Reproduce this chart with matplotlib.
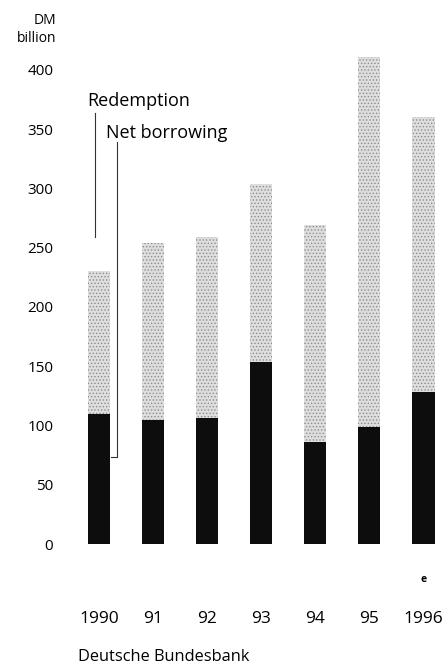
import matplotlib
matplotlib.use("Agg")
import matplotlib.pyplot as plt
import numpy as np

plt.rcParams['font.family'] = ['Open Sans', 'DejaVu Sans']
plt.rcParams['hatch.linewidth'] = 0.6

# DM billion
years = ['1990', '91', '92', '93', '94', '95', '1996']
net_borrowing = [110, 105, 106, 154, 86, 99, 128]
redemption = [120, 149, 153, 150, 183, 312, 232]
yticks = [0, 50, 100, 150, 200, 250, 300, 350, 400]

x = np.arange(len(years))

fig = plt.figure(figsize=(4.44, 6.72), dpi=100)
ax = fig.add_axes([70 / 444, 128 / 672, 374 / 444, 504 / 672])

ax.bar(x, net_borrowing, width=0.41, color='#0d0d0d', linewidth=0)
plt.rcParams['hatch.color'] = '#8c8c8c'
ax.bar(x, redemption, width=0.41, bottom=net_borrowing, color='#dedede',
       hatch='.....', edgecolor='#8c8c8c', linewidth=0)

ax.set_xlim(-0.536, 6.38)
ax.set_ylim(0, 425.3)
ax.set_yticks(yticks)
ax.set_yticklabels([str(v) for v in yticks], fontsize=11)
ax.set_xticks([])
ax.tick_params(axis='y', length=0, pad=12)
for s in ax.spines.values():
    s.set_visible(False)

# year labels below the bars
for xi, lab in zip(x, years):
    ax.text(xi, -63, lab, ha='center', va='center', fontsize=12.5)
ax.text(x[-1], -30, 'e', ha='center', va='center', fontsize=7.5,
        fontweight='bold')

# leader lines for the series labels
ax.plot([-0.074, -0.074], [364, 259], color='#333333', lw=0.8)
ax.text(-0.22, 374, 'Redemption', ha='left', va='center', fontsize=13)
ax.plot([0.333, 0.333, 0.22], [339, 73, 73], color='#333333', lw=0.8)
ax.text(0.13, 347, 'Net borrowing', ha='left', va='center', fontsize=13)

fig.text(56 / 444, 1 - 20 / 672, 'DM', ha='right', va='center', fontsize=10)
fig.text(56 / 444, 1 - 38 / 672, 'billion', ha='right', va='center', fontsize=10)
fig.text(78 / 444, 1 - 657 / 672, 'Deutsche Bundesbank', ha='left',
         va='center', fontsize=11.8)

fig.savefig('out.png', dpi=100)
